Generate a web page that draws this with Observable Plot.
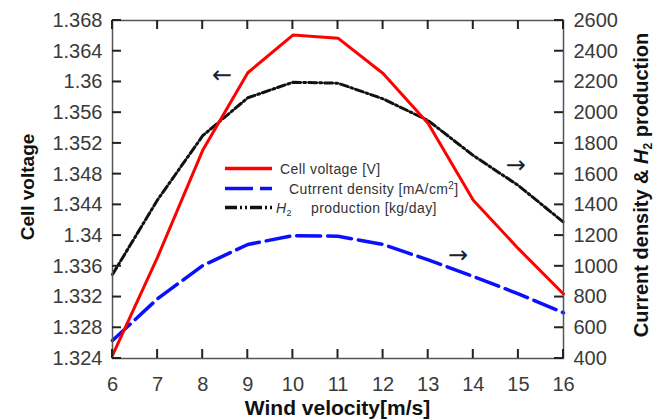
<!DOCTYPE html>
<html><head><meta charset="utf-8">
<script src="https://cdn.jsdelivr.net/npm/d3@7"></script>
<script src="https://cdn.jsdelivr.net/npm/@observablehq/plot@0.6"></script>
<style>body{margin:0;background:#fff} svg{display:block}</style>
</head><body><div id="chart"></div>
<script>
const velocity = [6, 7, 8, 9, 10, 11, 12, 13, 14, 15, 16];
const cellVoltage = [1.3244, 1.3372, 1.3511, 1.3612, 1.3661, 1.3657, 1.3611, 1.3546, 1.3446, 1.3383, 1.3324];
const currentDensity = [517, 789, 1005, 1142, 1200, 1196, 1142, 1042, 934, 821, 697];
const h2Production = [947, 1433, 1850, 2097, 2198, 2192, 2090, 1949, 1721, 1526, 1287];
const leftTicks = [1.324, 1.328, 1.332, 1.336, 1.34, 1.344, 1.348, 1.352, 1.356, 1.36, 1.364, 1.368];
const rightTicks = [400, 600, 800, 1000, 1200, 1400, 1600, 1800, 2000, 2200, 2400, 2600];
const xTicks = [6, 7, 8, 9, 10, 11, 12, 13, 14, 15, 16];
const arrowX = [8.43, 14.94, 13.66];
const arrowY = [1.3608, 1.3491, 1.3374];
const arrowGlyph = ["←", "→", "→"];

const leftDomain = [1.324, 1.368];
const rightDomain = [400, 2600];
const toLeft = v => leftDomain[0] + (v - rightDomain[0]) * (leftDomain[1] - leftDomain[0]) / (rightDomain[1] - rightDomain[0]);
const fromLeft = v => rightDomain[0] + (v - leftDomain[0]) * (rightDomain[1] - rightDomain[0]) / (leftDomain[1] - leftDomain[0]);

const rows = velocity.map((v, i) => ({v, cv: cellVoltage[i], cd: toLeft(currentDensity[i]), h2: toLeft(h2Production[i])}));
const arrows = arrowX.map((x, i) => ({x, y: arrowY[i], t: arrowGlyph[i]}));

const W = 655, H = 419, mL = 112, mR = 92, mT = 20, mB = 61;
const tk = 9;
const frameColor = "#555";
const tickColor = "#222";
const labelColor = "#3a3a3a";
const fs = 20;

const plot = Plot.plot({
  width: W, height: H,
  marginLeft: mL, marginRight: mR, marginTop: mT, marginBottom: mB,
  style: {fontFamily: "'Liberation Sans', Arial, sans-serif", background: "#fff", overflow: "visible"},
  x: {domain: [6, 16]},
  y: {domain: leftDomain},
  marks: [
    Plot.line(rows, {x: "v", y: "h2", stroke: "#111", strokeWidth: 3, strokeDasharray: "8,3,2,3"}),
    Plot.line(rows, {x: "v", y: "cd", stroke: "#0a10ff", strokeWidth: 3.5, strokeDasharray: "24,7"}),
    Plot.line(rows, {x: "v", y: "cv", stroke: "#ff0000", strokeWidth: 3}),
    Plot.text(arrows, {x: "x", y: "y", text: "t", fontSize: 24, fill: "#222", fontFamily: "'DejaVu Sans'"}),
    Plot.frame({stroke: frameColor, strokeWidth: 1.5}),
    Plot.axisY(leftTicks, {anchor: "left", tickSize: 0, tickPadding: 10, fontSize: fs, fill: labelColor, label: null, tickFormat: d => String(+d.toFixed(3))}),
    Plot.axisY(rightTicks.map(toLeft), {anchor: "right", tickSize: 0, tickPadding: 10, fontSize: fs, fill: labelColor, label: null, tickFormat: d => String(Math.round(fromLeft(d)))}),
    Plot.axisX(xTicks, {anchor: "bottom", tickSize: 0, tickPadding: 18, fontSize: fs, fill: labelColor, label: null})
  ]
});
document.getElementById("chart").appendChild(plot);

const svg = d3.select(plot);
const sx = plot.scale("x"), sy = plot.scale("y");
const X = v => sx.apply(v), Y = v => sy.apply(v);
const x0 = X(6), x1 = X(16), y0 = Y(leftDomain[0]), y1 = Y(leftDomain[1]);
// inward ticks, positioned through Plot's scales
const tg = svg.append("g");
const addTick = (a, b, c, d) => tg.append("path").attr("d", `M${a},${b}L${c},${d}`)
  .attr("stroke", tickColor).attr("stroke-width", 2).attr("fill", "none");
leftTicks.forEach(t => addTick(x0, Y(t), x0 + tk, Y(t)));
rightTicks.forEach(t => addTick(x1 - tk, Y(toLeft(t)), x1, Y(toLeft(t))));
xTicks.forEach(t => { addTick(X(t), y0, X(t), y0 - tk); addTick(X(t), y1, X(t), y1 + tk); });

const ff = "'Liberation Sans', Arial, sans-serif";
// axis titles
svg.append("text").attr("x", (x0 + x1) / 2).attr("y", 415).attr("text-anchor", "middle")
  .attr("font-family", ff).attr("font-weight", "bold").attr("font-size", 21).attr("fill", "#111")
  .text("Wind velocity[m/s]");
svg.append("text").attr("transform", "translate(33.5,187) rotate(-90)").attr("text-anchor", "middle")
  .attr("font-family", ff).attr("font-weight", "bold").attr("font-size", 19).attr("fill", "#111")
  .text("Cell voltage");
const rt = svg.append("text").attr("transform", "translate(648,185) rotate(-90)").attr("text-anchor", "middle")
  .attr("font-family", ff).attr("font-weight", "bold").attr("font-size", 20).attr("fill", "#111");
rt.append("tspan").text("Current density & ");
rt.append("tspan").attr("font-style", "italic").text("H");
rt.append("tspan").attr("font-size", 12).attr("dy", 4).text("2");
rt.append("tspan").attr("dy", -4).text(" production");

// legend
const lg = svg.append("g").attr("font-family", ff).attr("font-size", 14).attr("fill", "#333")
  .attr("letter-spacing", 0.4).attr("text-anchor", "start");
lg.append("line").attr("x1", 225).attr("x2", 272).attr("y1", 168.5).attr("y2", 168.5).attr("stroke", "#ff0000").attr("stroke-width", 3.5);
lg.append("text").attr("x", 280).attr("y", 173.5).text("Cell voltage [V]");
lg.append("line").attr("x1", 225).attr("x2", 272).attr("y1", 188.5).attr("y2", 188.5).attr("stroke", "#0a10ff").attr("stroke-width", 3.5).attr("stroke-dasharray", "28,7");
const t2 = lg.append("text").attr("x", 289).attr("y", 193.5);
t2.append("tspan").text("Cutrrent density [mA/cm");
t2.append("tspan").attr("font-size", 10).attr("dy", -5).text("2");
t2.append("tspan").attr("dy", 5).text("]");
lg.append("line").attr("x1", 225).attr("x2", 272).attr("y1", 207.5).attr("y2", 207.5).attr("stroke", "#111").attr("stroke-width", 3.5).attr("stroke-dasharray", "12,3,2,3,2,3");
const t3 = lg.append("text").attr("x", 276).attr("y", 212.5);
t3.append("tspan").attr("font-style", "italic").text("H");
t3.append("tspan").attr("font-size", 9).attr("dy", 3).text("2");
t3.append("tspan").attr("x", 311).attr("dy", -3).text("production [kg/day]");
</script>
</body></html>
